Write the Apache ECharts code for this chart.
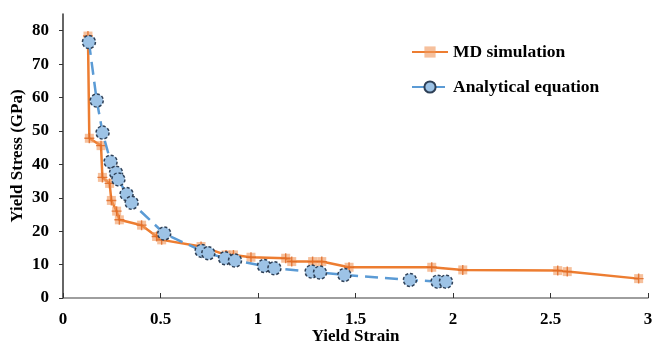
<!DOCTYPE html>
<html><head><meta charset="utf-8">
<script src="https://cdn.jsdelivr.net/npm/echarts@6/dist/echarts.min.js"></script>
<style>html,body{margin:0;padding:0;background:#fff}#c{width:652px;height:344px}</style>
</head><body><div id="c"></div>
<script>
const mdStrain = [0.128,0.135,0.195,0.202,0.239,0.248,0.275,0.289,0.403,0.48,0.506,0.708,0.836,0.874,0.964,1.142,1.173,1.28,1.327,1.467,1.891,2.05,2.537,2.586,2.952];
const mdStress = [78.4,47.8,45.6,36.1,34.3,29.2,26.0,23.4,21.8,18.4,17.4,15.4,12.9,12.9,12.2,11.9,10.9,10.9,10.9,9.2,9.2,8.4,8.2,7.9,5.8];
const anStrain = [0.133,0.173,0.203,0.244,0.272,0.284,0.326,0.352,0.519,0.711,0.745,0.831,0.882,1.031,1.084,1.275,1.318,1.443,1.779,1.921,1.964];
const anStress = [76.6,59.1,49.5,40.8,37.5,35.5,31.1,28.5,19.3,14.1,13.4,11.9,11.2,9.6,8.9,7.9,7.6,6.9,5.4,4.9,4.9];
const yTicks = [0,10,20,30,40,50,60,70,80];
const seriesNames = ['MD simulation','Analytical equation'];

const md = mdStrain.map((x,i)=>[x,mdStress[i]]);
const an = anStrain.map((x,i)=>[x,anStress[i]]);
const font = '"Liberation Serif","Times New Roman",serif';
const chart = echarts.init(document.getElementById('c'));
chart.setOption({
  animation:false,
  grid:{left:63,right:4,top:14,bottom:46,outerBoundsMode:'none',containLabel:false},
  legend:{
    data:seriesNames, orient:'vertical', left:406, top:38, itemWidth:36, itemHeight:14, itemGap:17,
    textStyle:{fontFamily:font,fontWeight:'bold',fontSize:17.5,color:'#000'}
  },
  xAxis:{
    type:'value', min:0, max:3, interval:0.5,
    name:'Yield Strain', nameLocation:'middle', nameGap:30, nameMoveOverlap:false,
    nameTextStyle:{fontFamily:font,fontWeight:'bold',fontSize:17,color:'#000'},
    axisLine:{lineStyle:{color:'#7f7f7f',width:1.5}},
    axisTick:{show:true,inside:true,length:5,lineStyle:{color:'#333'}},
    axisLabel:{margin:13,fontFamily:font,fontWeight:'bold',fontSize:17,color:'#000'},
    splitLine:{show:false}
  },
  yAxis:{
    type:'value', min:0, max:85,
    name:'Yield Stress (GPa)', nameLocation:'middle', nameGap:37, nameMoveOverlap:false,
    nameTextStyle:{fontFamily:font,fontWeight:'bold',fontSize:17,color:'#000'},
    axisLine:{show:true,lineStyle:{color:'#333',width:1.5}},
    axisTick:{show:true,length:4,customValues:yTicks,lineStyle:{color:'#333'}},
    axisLabel:{margin:14,customValues:yTicks,fontFamily:font,fontWeight:'bold',fontSize:17,color:'#000'},
    splitLine:{show:false}
  },
  series:[
    {name:seriesNames[0], type:'line', data:md, z:2,
     symbol:'rect', symbolSize:9,
     itemStyle:{color:'rgba(240,150,90,0.6)'},
     lineStyle:{color:'#ED7D31',width:2.5}},
    {name:'mdPlus', type:'scatter', data:md, z:3, silent:true,
     symbol:'path://M4.3,0H5.7V10H4.3ZM0,4.3H10V5.7H0Z', symbolSize:10,
     itemStyle:{color:'#E0661F'}},
    {name:seriesNames[1], type:'line', data:an, z:4,
     symbol:'circle', symbolSize:13,
     itemStyle:{color:'#9DC3E6',borderColor:'#2E4057',borderWidth:1.5,borderType:[3,2]},
     lineStyle:{color:'#5B9BD5',width:2.5,type:[13,7]}}
  ]
});
</script></body></html>
